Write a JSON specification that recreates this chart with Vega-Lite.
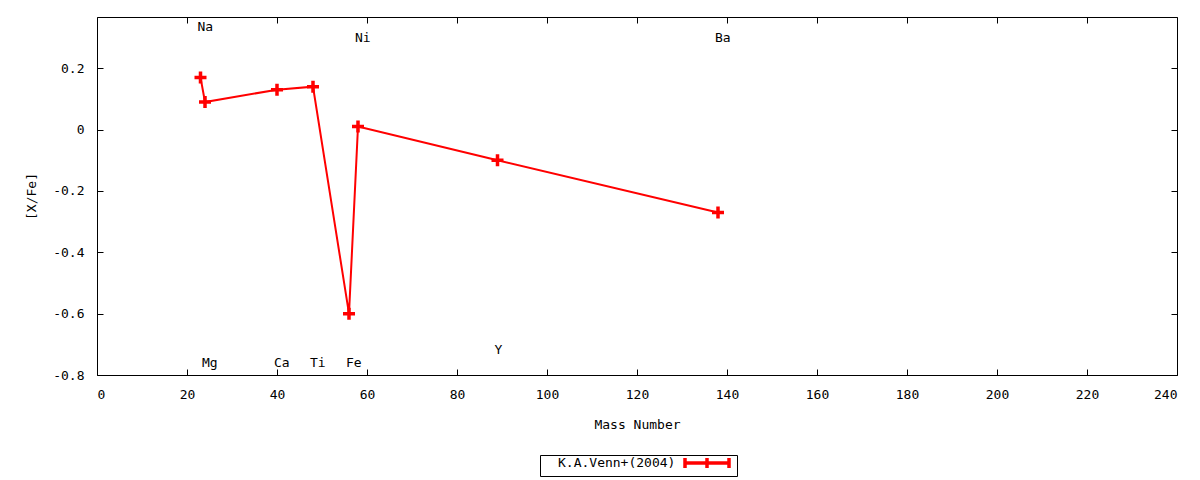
{
  "$schema": "https://vega.github.io/schema/vega-lite/v6.json",
  "autosize": {"type": "none"},
  "width": 1080,
  "height": 358,
  "padding": {"left": 97, "top": 17, "right": 23, "bottom": 105},
  "background": "white",
  "config": {
    "font": "DejaVu Sans Mono",
    "view": {"stroke": "black", "strokeWidth": 1},
    "axis": {
      "grid": false,
      "domain": false,
      "tickColor": "black",
      "tickSize": -6,
      "tickWidth": 1,
      "labelFont": "DejaVu Sans Mono",
      "labelFontSize": 13,
      "labelColor": "black",
      "titleFont": "DejaVu Sans Mono",
      "titleFontSize": 13,
      "titleFontWeight": "normal",
      "titleColor": "black"
    },
    "legend": {
      "labelFont": "DejaVu Sans Mono",
      "labelFontSize": 13,
      "labelColor": "black"
    }
  },
  "resolve": {"axis": {"x": "independent", "y": "independent"}},
  "datasets": {
    "venn": [
      {"el": "Na", "mass": 23, "xfe": 0.17, "ly": 0.335, "src": "K.A.Venn+(2004)"},
      {"el": "Mg", "mass": 24, "xfe": 0.09, "ly": -0.76, "src": "K.A.Venn+(2004)"},
      {"el": "Ca", "mass": 40, "xfe": 0.13, "ly": -0.76, "src": "K.A.Venn+(2004)"},
      {"el": "Ti", "mass": 48, "xfe": 0.14, "ly": -0.76, "src": "K.A.Venn+(2004)"},
      {"el": "Fe", "mass": 56, "xfe": -0.6, "ly": -0.76, "src": "K.A.Venn+(2004)"},
      {"el": "Ni", "mass": 58, "xfe": 0.01, "ly": 0.30, "src": "K.A.Venn+(2004)"},
      {"el": "Y", "mass": 89, "xfe": -0.1, "ly": -0.72, "src": "K.A.Venn+(2004)"},
      {"el": "Ba", "mass": 138, "xfe": -0.27, "ly": 0.30, "src": "K.A.Venn+(2004)"}
    ]
  },
  "data": {"name": "venn"},
  "layer": [
    {
      "mark": {"type": "line", "strokeWidth": 2, "color": "#ff0000"},
      "encoding": {
        "x": {
          "field": "mass",
          "type": "quantitative",
          "scale": {"domain": [0, 240], "nice": false},
          "axis": {
            "orient": "bottom",
            "title": "Mass Number",
            "values": [0, 20, 40, 60, 80, 100, 120, 140, 160, 180, 200, 220, 240],
            "labelPadding": 19,
            "titlePadding": 17
          }
        },
        "y": {
          "field": "xfe",
          "type": "quantitative",
          "scale": {"domain": [-0.8, 0.367], "nice": false, "zero": false},
          "axis": {
            "orient": "left",
            "title": "[X/Fe]",
            "values": [-0.8, -0.6, -0.4, -0.2, 0, 0.2],
            "labelExpr": "replace(format(datum.value, '.1~f'), '\u2212', '-')",
            "labelPadding": 19,
            "titlePadding": 14
          }
        },
        "color": {
          "field": "src",
          "type": "nominal",
          "scale": {"range": ["#ff0000"]},
          "legend": {
            "title": null,
            "orient": "none",
            "legendX": 443,
            "legendY": 438,
            "direction": "horizontal",
            "strokeColor": "black",
            "padding": 1,
            "symbolType": "M-4.4,0H4.4M-4.4,-1V1M0,-1V1M4.4,-1V1",
            "symbolSize": 100,
            "symbolStrokeWidth": 3.5,
            "symbolStrokeColor": "#ff0000",
            "symbolOffset": 159,
            "labelAlign": "left",
            "labelOffset": -156
          }
        }
      }
    },
    {
      "mark": {
        "type": "point",
        "shape": "M-1,0H1M0,-1V1",
        "size": 144,
        "strokeWidth": 3.5,
        "color": "#ff0000",
        "opacity": 1,
        "filled": false
      },
      "encoding": {
        "x": {"field": "mass", "type": "quantitative", "axis": null},
        "y": {"field": "xfe", "type": "quantitative", "axis": null}
      }
    },
    {
      "mark": {"type": "text", "align": "left", "baseline": "middle", "dx": -3, "fontSize": 13, "font": "DejaVu Sans Mono", "color": "black"},
      "encoding": {
        "x": {"field": "mass", "type": "quantitative", "axis": null},
        "y": {"field": "ly", "type": "quantitative", "axis": null},
        "text": {"field": "el"}
      }
    },
    {
      "mark": {"type": "rule", "opacity": 0},
      "encoding": {
        "x": {"field": "mass", "type": "quantitative", "axis": {"orient": "top", "labels": false, "title": null, "values": [0, 20, 40, 60, 80, 100, 120, 140, 160, 180, 200, 220, 240]}},
        "y": {"field": "xfe", "type": "quantitative", "axis": {"orient": "right", "labels": false, "title": null, "values": [-0.8, -0.6, -0.4, -0.2, 0, 0.2]}}
      }
    }
  ]
}
